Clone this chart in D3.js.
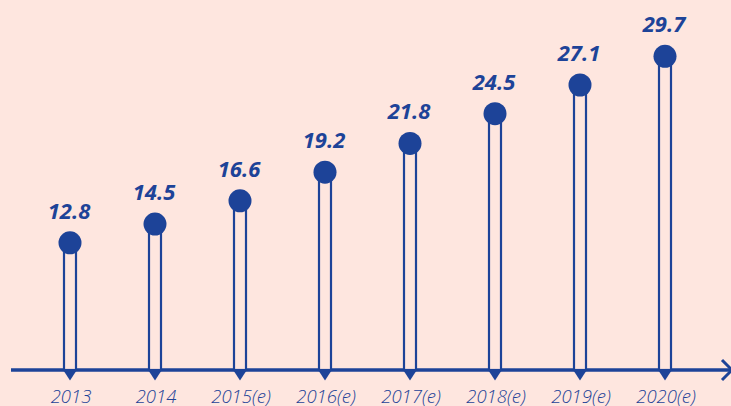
<!DOCTYPE html>
<html>
<head>
<meta charset="utf-8">
<script src="https://cdn.jsdelivr.net/npm/d3@7"></script>
<style>
  html, body { margin: 0; padding: 0; background: #fee6df; }
  svg { display: block; }
</style>
</head>
<body>
<svg id="graph" width="731" height="406"></svg>
<script>
// datos
var years = ["2013", "2014", "2015(e)", "2016(e)", "2017(e)", "2018(e)", "2019(e)", "2020(e)"];
var values = [12.8, 14.5, 16.6, 19.2, 21.8, 24.5, 27.1, 29.7];

function creaGrafica() {
    const azul = "#1d4398";
    const fondo = "#fee6df";
    let svg = d3.select("#graph");
    var width = +svg.attr("width");
    var ejeY = 370; // linea del eje

    var data = years.map((d, i) => ({ year: d, value: values[i] }));

    var x = d3.scalePoint()
        .domain(years)
        .range([70, 665]);
    var y = d3.scaleLinear()
        .domain([0, 30])
        .range([384, 53]);

    // eje horizontal
    svg.append("line")
        .attr("x1", 11)
        .attr("x2", width)
        .attr("y1", ejeY)
        .attr("y2", ejeY)
        .attr("stroke", azul)
        .attr("stroke-width", 3.5);

    // flecha al final del eje
    svg.append("path")
        .attr("d", "M722,360 L732,370 L722,380")
        .attr("fill", "none")
        .attr("stroke", azul)
        .attr("stroke-width", 3);

    let g = svg.append("g");

    // barras huecas
    g.selectAll(".bar")
        .data(data)
        .enter().append("rect")
        .attr("class", "bar")
        .attr("x", d => x(d.year) - 6)
        .attr("width", 12)
        .attr("y", d => y(d.value))
        .attr("height", d => ejeY - y(d.value))
        .attr("fill", fondo)
        .attr("stroke", azul)
        .attr("stroke-width", 2.2);

    // triangulos debajo del eje
    g.selectAll(".tri")
        .data(data)
        .enter().append("path")
        .attr("class", "tri")
        .attr("d", d => {
            let cx = x(d.year);
            return "M" + (cx - 7.5) + "," + (ejeY - 1) + " L" + (cx + 7.5) + "," + (ejeY - 1) + " L" + cx + "," + (ejeY + 10.5) + "Z";
        })
        .attr("fill", azul);

    // circulos
    g.selectAll(".point")
        .data(data)
        .enter().append("circle")
        .attr("class", "point")
        .attr("cx", d => x(d.year))
        .attr("cy", d => y(d.value))
        .attr("r", 11.5)
        .attr("fill", azul);

    // valores
    g.selectAll(".valor")
        .data(data)
        .enter().append("text")
        .attr("class", "valor")
        .attr("x", d => x(d.year) - 1)
        .attr("y", d => y(d.value) - 24)
        .attr("text-anchor", "middle")
        .attr("font-family", "'Open Sans', sans-serif")
        .attr("font-size", 22)
        .attr("font-weight", "bold")
        .attr("font-style", "italic")
        .attr("fill", azul)
        .text(d => d.value.toFixed(1));

    // etiquetas de años
    g.selectAll(".year")
        .data(data)
        .enter().append("text")
        .attr("class", "year")
        .attr("x", d => x(d.year) + 1)
        .attr("y", 403)
        .attr("text-anchor", "middle")
        .attr("font-family", "'Open Sans', sans-serif")
        .attr("font-size", 18.5)
        .attr("font-weight", 300)
        .attr("font-style", "italic")
        .attr("fill", azul)
        .text(d => d.year);
}

creaGrafica();
</script>
</body>
</html>
